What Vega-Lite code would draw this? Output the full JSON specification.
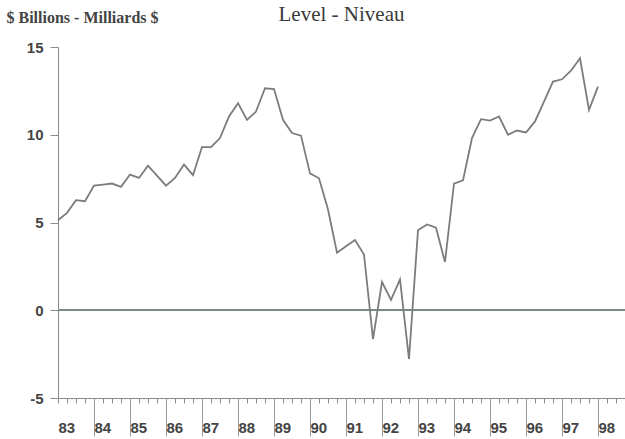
{
  "$schema": "https://vega.github.io/schema/vega-lite/v6.json",
  "width": 567,
  "height": 351,
  "autosize": "none",
  "padding": {"left": 58, "top": 47, "right": 0, "bottom": 41},
  "background": "white",
  "config": {
    "view": {"stroke": null},
    "axis": {"grid": false, "domainColor": "#8a8a8a", "tickColor": "#8a8a8a", "labelFont": "Liberation Sans", "labelFontWeight": "bold", "labelFontSize": 15, "labelColor": "#444444"}
  },
  "title": {
    "text": "Level - Niveau",
    "font": "Liberation Serif",
    "fontSize": 21,
    "fontWeight": "normal",
    "color": "#3a3a3a",
    "anchor": "middle",
    "frame": "group",
    "offset": 0,
    "dy": 16
  },
  "data": {"name": "s"},
  "datasets": {
    "s": [
      {"t": 83.00, "v": 5.13}, {"t": 83.25, "v": 5.55}, {"t": 83.50, "v": 6.27}, {"t": 83.75, "v": 6.21},
      {"t": 84.00, "v": 7.10}, {"t": 84.25, "v": 7.16}, {"t": 84.50, "v": 7.22}, {"t": 84.75, "v": 7.03},
      {"t": 85.00, "v": 7.73}, {"t": 85.25, "v": 7.54}, {"t": 85.50, "v": 8.24}, {"t": 85.75, "v": 7.67},
      {"t": 86.00, "v": 7.10}, {"t": 86.25, "v": 7.54}, {"t": 86.50, "v": 8.30}, {"t": 86.75, "v": 7.70},
      {"t": 87.00, "v": 9.30}, {"t": 87.25, "v": 9.30}, {"t": 87.50, "v": 9.81}, {"t": 87.75, "v": 11.04},
      {"t": 88.00, "v": 11.80}, {"t": 88.25, "v": 10.85}, {"t": 88.50, "v": 11.32}, {"t": 88.75, "v": 12.65},
      {"t": 89.00, "v": 12.60}, {"t": 89.25, "v": 10.85}, {"t": 89.50, "v": 10.10}, {"t": 89.75, "v": 9.95},
      {"t": 90.00, "v": 7.80}, {"t": 90.25, "v": 7.52}, {"t": 90.50, "v": 5.74}, {"t": 90.75, "v": 3.28},
      {"t": 91.00, "v": 3.65}, {"t": 91.25, "v": 4.00}, {"t": 91.50, "v": 3.18}, {"t": 91.75, "v": -1.65},
      {"t": 92.00, "v": 1.61}, {"t": 92.25, "v": 0.59}, {"t": 92.50, "v": 1.76}, {"t": 92.75, "v": -2.78},
      {"t": 93.00, "v": 4.56}, {"t": 93.25, "v": 4.89}, {"t": 93.50, "v": 4.70}, {"t": 93.75, "v": 2.75},
      {"t": 94.00, "v": 7.22}, {"t": 94.25, "v": 7.40}, {"t": 94.50, "v": 9.81}, {"t": 94.75, "v": 10.89},
      {"t": 95.00, "v": 10.81}, {"t": 95.25, "v": 11.04}, {"t": 95.50, "v": 10.00}, {"t": 95.75, "v": 10.24},
      {"t": 96.00, "v": 10.13}, {"t": 96.25, "v": 10.76}, {"t": 96.50, "v": 11.89}, {"t": 96.75, "v": 13.03},
      {"t": 97.00, "v": 13.16}, {"t": 97.25, "v": 13.65}, {"t": 97.50, "v": 14.36}, {"t": 97.75, "v": 11.42},
      {"t": 98.00, "v": 12.74}
    ]
  },
  "layer": [
    {
      "mark": {"type": "rule", "color": "#7d8b80", "strokeWidth": 1.6},
      "encoding": {"y": {"datum": 0, "type": "quantitative", "scale": {"domain": [-5, 15]}}}
    },
    {
      "mark": {"type": "line", "color": "#7c7c7c", "strokeWidth": 1.8, "strokeJoin": "miter"},
      "encoding": {
        "x": {
          "field": "t", "type": "quantitative",
          "scale": {"domain": [83, 98.75], "nice": false, "zero": false},
          "axis": {
            "orient": "bottom", "title": null, "labels": false, "tickSize": 5, "tickWidth": 1,
            "values": [83,83.25,83.5,83.75,84,84.25,84.5,84.75,85,85.25,85.5,85.75,86,86.25,86.5,86.75,87,87.25,87.5,87.75,88,88.25,88.5,88.75,89,89.25,89.5,89.75,90,90.25,90.5,90.75,91,91.25,91.5,91.75,92,92.25,92.5,92.75,93,93.25,93.5,93.75,94,94.25,94.5,94.75,95,95.25,95.5,95.75,96,96.25,96.5,96.75,97,97.25,97.5,97.75,98,98.25,98.5,98.75]
          }
        },
        "y": {
          "field": "v", "type": "quantitative",
          "scale": {"domain": [-5, 15], "nice": false, "zero": false},
          "axis": {
            "values": [-5, 0, 5, 10, 15], "tickSize": 8, "labelPadding": 7,
            "labelExpr": "'' + datum.value",
            "title": "$ Billions - Milliards $", "titleAngle": 0, "titleX": -52, "titleY": -30,
            "titleAlign": "left", "titleBaseline": "middle", "titleFont": "Liberation Serif",
            "titleFontSize": 16, "titleFontWeight": "bold", "titleColor": "#444444"
          }
        }
      }
    },
    {
      "mark": {"type": "point", "opacity": 0},
      "encoding": {
        "x": {
          "field": "t", "type": "quantitative",
          "axis": {
            "orient": "bottom", "title": null, "labels": false, "domain": false, "tickSize": 38,
            "tickColor": "#9a9a9a", "tickWidth": 1,
            "values": [84, 85, 86, 87, 88, 89, 90, 91, 92, 93, 94, 95, 96, 97, 98]
          }
        }
      }
    },
    {
      "mark": {"type": "point", "opacity": 0},
      "encoding": {
        "x": {
          "field": "t", "type": "quantitative",
          "axis": {
            "orient": "bottom", "title": null, "ticks": false, "domain": false,
            "labelAlign": "left", "labelDx": 2, "labelPadding": 22, "labelFlush": false, "labelOverlap": false,
            "labelExpr": "'' + datum.value",
            "values": [83, 84, 85, 86, 87, 88, 89, 90, 91, 92, 93, 94, 95, 96, 97, 98]
          }
        }
      }
    }
  ],
  "resolve": {"axis": {"x": "independent"}}
}
